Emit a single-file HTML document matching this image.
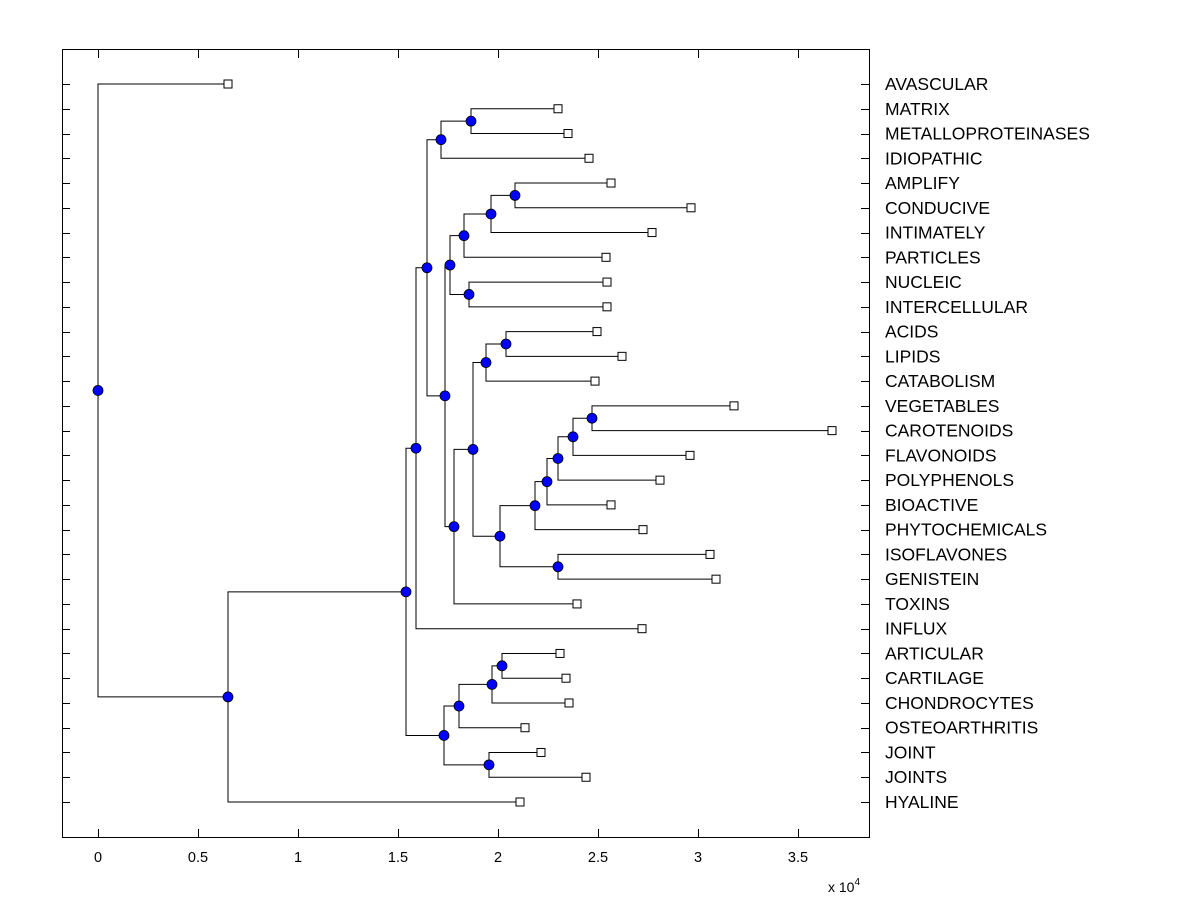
<!DOCTYPE html>
<html><head><meta charset="utf-8"><style>
html,body{margin:0;padding:0;background:#fff;}
svg{display:block;font-family:"Liberation Sans",Arial,sans-serif;}
</style></head><body>
<svg id="chart" width="1200" height="900" viewBox="0 0 1200 900" xmlns="http://www.w3.org/2000/svg">
<rect x="0" y="0" width="1200" height="900" fill="#fff"/>
<g id="links"></g>
<g id="marks"></g>
<rect x="62.5" y="49.5" width="807" height="788" fill="none" stroke="#000" stroke-width="1"/>
<g id="axes"></g>
<text x="828" y="892" font-size="14">x 10<tspan dy="-7" font-size="10">4</tspan></text>
</svg>
<script>
const labels = ["AVASCULAR","MATRIX","METALLOPROTEINASES","IDIOPATHIC","AMPLIFY","CONDUCIVE","INTIMATELY","PARTICLES","NUCLEIC","INTERCELLULAR","ACIDS","LIPIDS","CATABOLISM","VEGETABLES","CAROTENOIDS","FLAVONOIDS","POLYPHENOLS","BIOACTIVE","PHYTOCHEMICALS","ISOFLAVONES","GENISTEIN","TOXINS","INFLUX","ARTICULAR","CARTILAGE","CHONDROCYTES","OSTEOARTHRITIS","JOINT","JOINTS","HYALINE"];
const leafValues = [0.65,2.30,2.35,2.455,2.565,2.965,2.77,2.54,2.545,2.545,2.495,2.62,2.485,3.18,3.67,2.96,2.81,2.565,2.725,3.06,3.09,2.395,2.72,2.31,2.34,2.355,2.135,2.215,2.44,2.11];
// merges: node ids; leaves "L#", internal "N#"
const mergeIds = ["N1","N2","N3","N4","N5","N6","N7","N9","N10","N11","N12","N13","N14","N15","N16","N17","N18","N19","N20","N21","N22","N23","N24","N25","N26","N27","N28","N29","N30"];
const mergeLeft = ["L1","N1","L4","N3","N4","L8","N5","L10","N9","L13","N11","N12","N13","N14","L19","N15","N10","N18","N7","N2","N21","L23","N23","N24","L27","N25","N22","N28","L0"];
const mergeRight = ["L2","L3","L5","L6","L7","L9","N6","L11","L12","L14","L15","L16","L17","L18","L20","N16","N17","L21","N19","N20","L22","L24","L25","L26","L28","N26","N27","L29","N29"];
const mergeHeights = [1.865,1.715,2.085,1.965,1.83,1.855,1.76,2.04,1.94,2.47,2.375,2.30,2.245,2.185,2.30,2.01,1.875,1.78,1.735,1.645,1.59,2.02,1.97,1.805,1.955,1.73,1.54,0.65,0];
const xTicks = [0,0.5,1,1.5,2,2.5,3,3.5];
const xTickLabels = ["0","0.5","1","1.5","2","2.5","3","3.5"];

const NS="http://www.w3.org/2000/svg";
const xs = v => 98 + v*200;
const ys = i => 84 + i*(802-84)/(labels.length-1);
const links=document.getElementById('links'), marks=document.getElementById('marks'), axes=document.getElementById('axes');
function mk(tag, attrs, parent){const e=document.createElementNS(NS,tag);for(const k in attrs)e.setAttribute(k,attrs[k]);parent.appendChild(e);return e;}

const nodeY={}, nodeH={};
labels.forEach((l,i)=>{nodeY["L"+i]=ys(i);nodeH["L"+i]=leafValues[i];});
mergeHeights.forEach((h,k)=>{
  const id=mergeIds[k];
  nodeH[id]=h;
  nodeY[id]=(nodeY[mergeLeft[k]]+nodeY[mergeRight[k]])/2;
});
mergeHeights.forEach((h,k)=>{
  const id=mergeIds[k];
  const px=xs(h);
  [mergeLeft[k],mergeRight[k]].forEach(c=>{
    const cy=nodeY[c], cx=xs(nodeH[c]);
    const p=mk('path',{d:`M${px} ${nodeY[id]} L${px} ${cy} L${cx} ${cy}`,fill:'none',stroke:'#000','stroke-width':1},links);
    
    
  });
});
mergeHeights.forEach((h,k)=>{
  const id=mergeIds[k];
  const c=mk('circle',{cx:xs(h),cy:nodeY[id],r:5,fill:'#0000ff',stroke:'#000','stroke-width':0.8},marks);
  
  
});
labels.forEach((l,i)=>{
  const r=mk('rect',{x:xs(leafValues[i])-4,y:ys(i)-4,width:8,height:8,fill:'#fff',stroke:'#000','stroke-width':1},marks);
  
  
});
labels.forEach((l,i)=>{
  const y=Math.round(ys(i))+0.5;
  mk('line',{x1:62,y1:y,x2:70,y2:y,stroke:'#000'},axes);
  mk('line',{x1:861,y1:y,x2:869,y2:y,stroke:'#000'},axes);
  const t=mk('text',{x:885,y:ys(i)+6,'font-size':17.5},axes);
  t.textContent=l;
  
  
});
xTicks.forEach((v,i)=>{
  const x=Math.round(xs(v))+0.5;
  mk('line',{x1:x,y1:837,x2:x,y2:829,stroke:'#000'},axes);
  mk('line',{x1:x,y1:50,x2:x,y2:58,stroke:'#000'},axes);
  const t=mk('text',{x:xs(v),y:862,'font-size':14.5,'text-anchor':'middle'},axes);
  t.textContent=xTickLabels[i];
  
  
});
</script>
</body></html>
